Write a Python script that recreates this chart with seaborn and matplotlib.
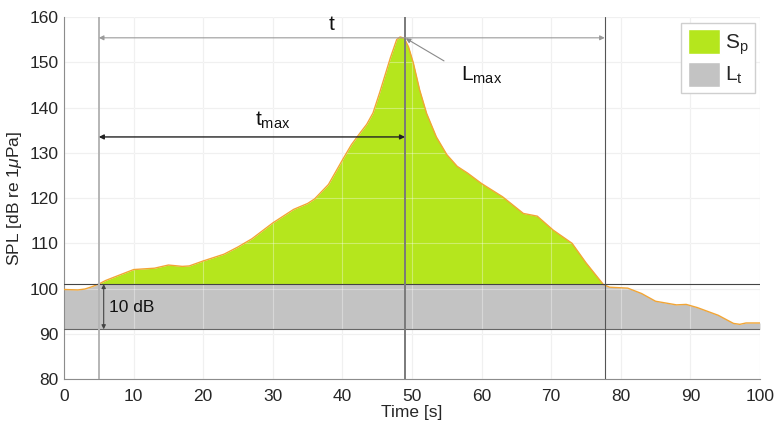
import numpy as np
import pandas as pd
import matplotlib
matplotlib.use("Agg")
import matplotlib.pyplot as plt
from matplotlib.patches import Patch
import seaborn as sns

# Sound pressure level of a single pass-by event
time_s = [0, 2, 3, 4, 5, 6, 8, 10, 13, 15, 17, 18, 20, 23, 25, 27, 30, 33, 35, 36,
          38, 40, 41.3, 42.5, 43.5, 44.4, 45.4, 46.4, 46.9, 47.8, 48.3, 48.9, 49.5,
          50.2, 51.1, 52.1, 53.5, 55.0, 56.5, 58, 60, 63, 66, 68, 70.3, 73, 75,
          77.5, 78.4, 81, 83, 85, 88, 89.4, 91, 94, 96.2, 97.1, 98, 100]
spl_db = [99.8, 99.7, 99.9, 100.4, 101.0, 101.8, 103.0, 104.2, 104.5, 105.2, 104.9,
          105.0, 106.1, 107.6, 109.2, 111.0, 114.5, 117.5, 118.8, 119.8, 123.0,
          128.4, 131.8, 134.3, 136.3, 138.8, 143.5, 148.5, 151.0, 155.0, 155.6,
          155.3, 153.4, 149.8, 143.9, 138.7, 133.5, 129.6, 127.0, 125.5, 123.2,
          120.3, 116.6, 116.0, 112.9, 110.0, 105.7, 100.9, 100.3, 100.1, 98.9, 97.2,
          96.4, 96.5, 95.8, 94.1, 92.3, 92.1, 92.4, 92.4]

threshold_db = 101.0      # event threshold
floor_db = 91.0           # threshold - 10 dB
t_start, t_peak, t_end = 5.0, 49.0, 77.7
peak_db = 155.5

x_ticks = list(range(0, 101, 10))
y_ticks = list(range(80, 161, 10))

df = pd.DataFrame({"Time": time_s, "SPL": spl_db})

sns.set_theme(style="white")
plt.rcParams["font.family"] = ["Liberation Sans", "DejaVu Sans"]
plt.rcParams["mathtext.fontset"] = "custom"
plt.rcParams["mathtext.rm"] = "Liberation Sans"
plt.rcParams["mathtext.it"] = "Liberation Sans:italic"

fig = plt.figure(figsize=(7.75, 4.25), dpi=100)
ax = fig.add_axes([0.0826, 0.108, 0.898, 0.852])

t = df["Time"].to_numpy()
s = df["SPL"].to_numpy()

green = "#b5e61d"
grey = "#c3c3c3"

# grid under the filled areas
for xv in x_ticks:
    ax.axvline(xv, color="#e9e9e9", lw=0.8, zorder=0)
for yv in y_ticks:
    ax.axhline(yv, color="#e9e9e9", lw=0.8, zorder=0)

ax.fill_between(t, floor_db, np.minimum(s, threshold_db), color=grey, lw=0, zorder=1)
ax.fill_between(t, threshold_db, s, where=s >= threshold_db, interpolate=True,
                color=green, lw=0, zorder=1)

# faint grid over the filled areas
for xv in x_ticks:
    ax.axvline(xv, color="white", lw=0.8, alpha=0.35, zorder=2)
for yv in y_ticks:
    ax.axhline(yv, color="white", lw=0.8, alpha=0.35, zorder=2)

sns.lineplot(data=df, x="Time", y="SPL", ax=ax, color="#f2a535", lw=1.0, zorder=3)

# threshold and 10 dB-down lines
ax.axhline(threshold_db, color="#444444", lw=0.8, zorder=4)
ax.axhline(floor_db, color="#666666", lw=0.8, zorder=4)

# event start, peak and end markers
ax.axvline(t_start, color="#b5b5b5", lw=1.4, zorder=4)
ax.axvline(t_peak, color="#7a7a7a", lw=1.4, zorder=4)
ax.axvline(t_end, color="#555555", lw=0.8, zorder=4)

arrow_light = dict(arrowstyle="<|-|>", color="#9a9a9a", lw=0.8,
                   mutation_scale=7, shrinkA=0, shrinkB=0)
arrow_dark = dict(arrowstyle="<|-|>", color="#222222", lw=1.0,
                  mutation_scale=7, shrinkA=0, shrinkB=0)

ax.annotate("", xy=(t_end, 155.4), xytext=(t_start, 155.4), arrowprops=arrow_light, zorder=5)
ax.text(38.5, 156.3, "t", fontsize=15, ha="center", va="bottom", color="#111111")

ax.annotate("", xy=(t_peak, 133.5), xytext=(t_start, 133.5), arrowprops=arrow_dark, zorder=5)
ax.text(30.0, 134.8, r"t$_\mathrm{max}$", fontsize=15, ha="center", va="bottom", color="#111111")

ax.annotate("", xy=(t_peak + 0.1, peak_db - 0.2), xytext=(54.6, 150.3),
            arrowprops=dict(arrowstyle="-|>", color="#8a8a8a", lw=0.8,
                            mutation_scale=7, shrinkA=0, shrinkB=0), zorder=5)
ax.text(57.0, 147.0, r"L$_\mathrm{max}$", fontsize=15, ha="left", va="center", color="#111111")

ax.annotate("", xy=(5.7, floor_db), xytext=(5.7, threshold_db),
            arrowprops=dict(arrowstyle="<|-|>", color="#444444", lw=0.8,
                            mutation_scale=6, shrinkA=0, shrinkB=0), zorder=5)
ax.text(6.4, 95.9, "10 dB", fontsize=12.5, ha="left", va="center", color="#111111")

ax.set_xlim(0, 100)
ax.set_ylim(80, 160)
ax.set_xticks(x_ticks)
ax.set_yticks(y_ticks)
ax.tick_params(axis="both", direction="in", length=4, width=0.8, color="#888888",
               labelsize=12.5, labelcolor="#262626")
ax.tick_params(axis="x", pad=7)
ax.tick_params(axis="y", pad=4)
ax.set_xlabel("Time [s]", fontsize=12.5, color="#262626", labelpad=1)
ax.set_ylabel(r"SPL [dB re 1$\mathit{\mu}$Pa]", fontsize=12.5, color="#262626", labelpad=4)

for side in ["top", "right"]:
    ax.spines[side].set_visible(False)
for side in ["left", "bottom"]:
    ax.spines[side].set_color("#8c8c8c")
    ax.spines[side].set_linewidth(0.8)

handles = [Patch(facecolor=green, edgecolor="white", lw=1.0, label=r"S$_\mathrm{p}$"),
           Patch(facecolor=grey, edgecolor="white", lw=1.0, label=r"L$_\mathrm{t}$")]
leg = ax.legend(handles=handles, loc="upper right", bbox_to_anchor=(0.993, 0.984),
                fontsize=15, frameon=True, fancybox=False, framealpha=1,
                edgecolor="#cfcfcf", handlelength=1.55, handleheight=1.45,
                handletextpad=0.25, borderpad=0.3, labelspacing=0.25, borderaxespad=0.0)
leg.get_frame().set_linewidth(1.0)

fig.savefig("out.png", dpi=100)
